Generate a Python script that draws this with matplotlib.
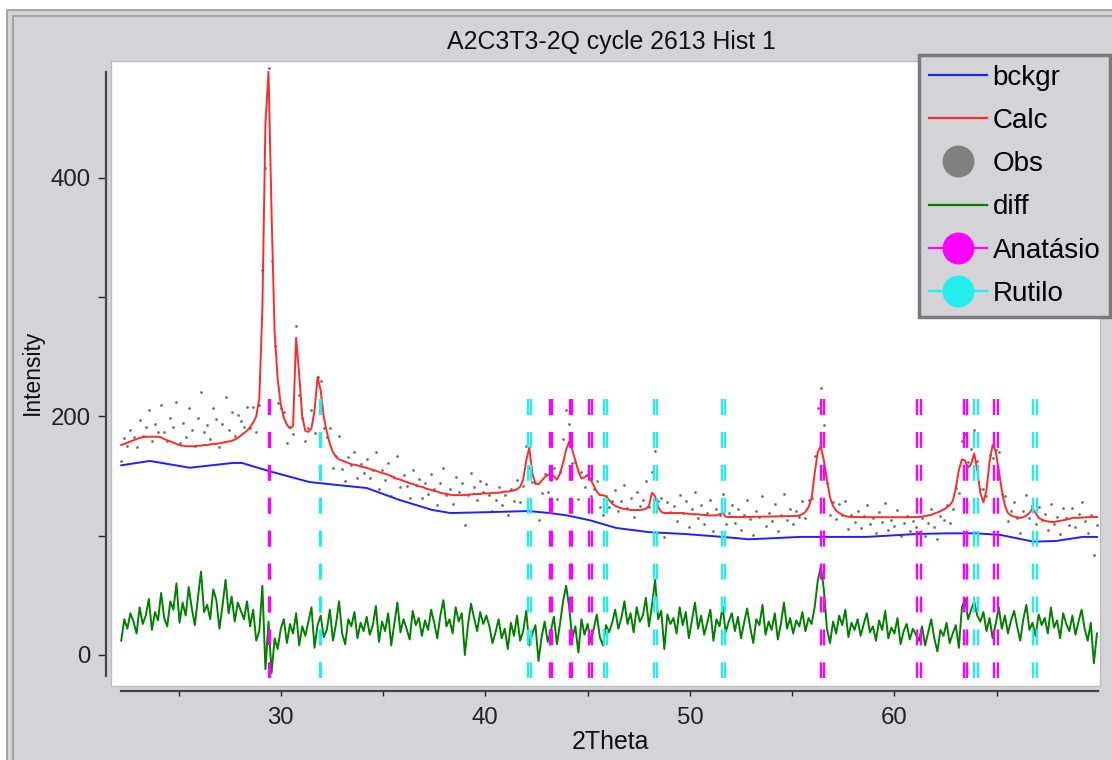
import matplotlib
matplotlib.use("Agg")
import matplotlib.pyplot as plt
import numpy as np
from matplotlib.lines import Line2D
from matplotlib.patches import Rectangle

plt.rcParams["font.family"] = ["Liberation Sans", "DejaVu Sans"]
plt.rcParams["lines.scale_dashes"] = False

TITLE = "A2C3T3-2Q cycle 2613 Hist 1"

# 2theta grid: 22.2 .. 69.9, step 0.15
TTH_START = 22.2
TTH_STEP = 0.15

calc = [
    176, 177, 178, 179, 180, 181, 182, 182.5, 183, 183, 183, 183, 183, 182.5, 181, 180, 179, 178, 177, 176,
    175.5, 175, 175, 175, 175, 175.5, 175.5, 176, 176, 176.5, 177, 177, 177.5, 178, 178.5, 179, 179.5, 180.5, 182, 184,
    186, 188, 191, 195, 200, 215, 290, 445, 489, 370, 270, 231, 210, 199, 193, 190, 192, 266, 235, 200,
    188, 187, 190, 205, 233, 222, 200, 187, 177, 170, 166, 164, 163, 162, 161, 160, 159.5, 159, 158, 157.5,
    157, 156, 155, 154.5, 153.5, 152.5, 152, 151, 150, 148.5, 147.5, 147, 146, 145, 144, 143.5, 142.5, 141.5, 141, 140,
    139, 138.5, 137.5, 137, 136, 135.5, 135, 134.5, 134, 134, 134, 134, 134, 134.5, 134.5, 135, 135, 135, 135.5, 135.5,
    135.5, 136, 136, 136, 136.5, 137, 137, 137.5, 138, 139, 141, 147, 163, 174, 152, 144, 143, 146, 149, 151,
    152, 150, 147, 152, 161, 172, 179, 172, 163, 154, 148, 149, 151, 147, 142, 137, 134, 134, 133, 130,
    127, 125, 124, 123, 122.5, 122, 121.6, 121.5, 121.5, 121.5, 122, 122.5, 125, 136, 133, 124, 120, 119, 119, 119,
    119, 119, 119, 119, 118.5, 118.5, 118, 118, 118, 117.5, 117.5, 117, 117, 117, 117, 118, 119, 116, 115.7, 115.7,
    115.7, 115.7, 115.7, 115.7, 115.7, 115.8, 115.8, 115.9, 116, 116, 116, 116, 116.1, 116.2, 116.2, 116.3, 116.3, 116.4, 116.4, 116.5,
    116.5, 117, 118, 120, 124, 131, 152, 170, 175, 163, 147, 132, 125, 121, 119, 117.5, 116.5, 116, 115.7, 115.7,
    115.7, 115.6, 115.5, 115.5, 115.5, 115.5, 115.5, 115.5, 115.5, 115.5, 115.5, 115.5, 115.5, 115.5, 115.5, 115.5, 115.5, 115.6, 115.6, 115.7,
    115.8, 116, 116.5, 117, 117.5, 118.5, 119.5, 120.5, 122, 123.5, 125.5, 129, 140, 155, 164, 163, 157, 160, 169, 155,
    136, 128, 138, 162, 176, 171, 155, 138, 125, 119, 117, 116, 115.5, 115, 115.5, 117, 119, 123, 119, 115,
    113.5, 112.5, 112, 111.5, 111.5, 112, 112.5, 113, 113.5, 114, 115, 115, 115, 115.2, 115.4, 115.5, 115.6, 115.7, 115.7,
]

diff = [
    12, 30, 22, 35, 28, 18, 40, 26, 33, 47, 21, 36, 29, 52, 31, 24, 45, 38, 60, 27,
    44, 33, 57, 39, 25, 48, 70, 36, 42, 30, 55, 46, 22, 41, 63, 35, 49, 28, 44, 37,
    30, 45, 24, 38, 12, 20, 58, -12, 28, -15, 14, 5, 22, 30, 10, 26, 18, 35, 8, 24,
    16, 28, 40, 6, 25, 33, 15, 21, 38, 12, 26, 45, 18, 9, 30, 24, 36, 14, 27, 20,
    32, 17, 25, 41, 11, 28, 20, 35, 8, 26, 44, 19, 30, 22, 13, 37, 25, 31, 16, 29,
    21, 38, 27, 14, 33, 46, 24, 30, 18, 40, 28, 35, 0, 25, 43, 31, 20, 36, 26, 33,
    24, 10, 19, 30, 14, 22, 5, 27, 16, 33, 12, 20, 37, 8, 18, 25, -5, 15, 28, 11,
    20, 32, 9, 26, 45, 58, 40, 14, 24, 2, 30, 17, 26, 11, 22, 34, 15, 8, 25, 19,
    27, 38, 22, 31, 45, 26, 35, 19, 40, 28, 33, 48, 24, 42, 63, 30, 37, 5, 34, 26,
    31, 18, 40, 25, 36, 14, 29, 44, 22, 33, 17, 27, 38, 12, 30, 24, 41, 19, 28, 35,
    20, 32, 14, 27, 39, 23, 10, 30, 25, 42, 17, 28, 21, 35, 13, 26, 44, 22, 31, 18,
    29, 24, 36, 20, 31, 26, 40, 62, 74, 55, 22, 10, 28, 18, 33, 25, 38, 15, 27, 21,
    30, 16, 26, 35, 19, 24, 12, 29, 21, 37, 14, 23, 18, 31, 9, 20, 26, 13, 22, 17,
    12, 24, 8, 19, 30, 14, 3, 21, 16, 27, 10, 18, 25, 6, 40, 47, 30, 38, 45, 33,
    28, 36, 20, 31, 14, 26, 40, 22, 33, 18, 29, 37, 24, 12, 30, 42, 21, 27, 16, 34,
    25, 31, 18, 40, 23, 29, 14, 35, 26, 20, 33, 17, 28, 38, 22, 12, 27, -7, 18,
]
DIFF_OFFSET = 25

bkg_tth = [22.2, 23.6, 25.55, 27.65, 28.1, 29.46, 31.4, 32.5, 34.2, 35.8, 37.4, 38.3,
           40.7, 42.1, 43.15, 44.0, 45.1, 46.4, 48.0, 49.7, 51.6, 52.9, 55.4, 58.65,
           61.15, 62.7, 64.0, 65.2, 66.8, 67.9, 69.2, 69.9]
bkg = [159, 162.7, 157, 161, 161, 154, 145, 143, 140, 130, 121.6, 119,
       120, 120.7, 119, 117, 113, 106.5, 103, 101.5, 99, 97, 99, 99,
       101.5, 102, 102, 100.6, 95, 95.6, 99, 99]

# reflection positions (K-alpha1 and K-alpha2)
anatase_ka1 = [29.40, 43.15, 44.13, 45.08, 56.39, 61.12, 63.38, 64.88]
anatase_ka2 = [29.47, 43.27, 44.25, 45.21, 56.55, 61.29, 63.56, 65.06]
rutile_ka1 = [31.91, 42.09, 45.81, 48.24, 51.58, 63.90, 66.76]
rutile_ka2 = [31.99, 42.21, 45.94, 48.38, 51.74, 64.08, 66.95]
TICK_TOP, TICK_BOTTOM = 215, -19

tth = TTH_START + TTH_STEP * np.arange(len(calc))
calc = np.array(calc)
diff = np.array(diff)
obs = calc + diff - DIFF_OFFSET

GRAY = "#d4d3d6"
fig = plt.figure(figsize=(11.12, 7.6), dpi=100, facecolor="white")
fig.patches.append(Rectangle((7 / 1112, -0.1), 1.2, 1 - 10 / 760 + 0.1, transform=fig.transFigure,
                             facecolor=GRAY, edgecolor="#9a9a9a", lw=1.2, zorder=-10))
fig.patches.append(Rectangle((13 / 1112, -0.1), 1.2, 1 - 16 / 760 + 0.1, transform=fig.transFigure,
                             facecolor="none", edgecolor="#9a9a9a", lw=1.2, zorder=-9))

ax = fig.add_axes([111 / 1112, 1 - 686 / 760, 989 / 1112, 625 / 760])
ax.set_facecolor("white")
ax.add_patch(Rectangle((0, 0), 1, 1, transform=ax.transAxes, facecolor="none",
                       edgecolor="#bdbdbd", lw=1, clip_on=False, zorder=0))

ax.plot(tth, obs, ".", ms=2.2, color="#666666", alpha=0.8, zorder=2)
ax.plot(bkg_tth, bkg, color="#2020ff", lw=1.4, zorder=3)
ax.plot(tth, calc, color="#ff2a2a", lw=1.4, zorder=4)
ax.plot(tth, diff, color="#008000", lw=1.4, zorder=3)

for pos_list, col in ((anatase_ka1, "#ff00ff"), (anatase_ka2, "#ff00ff"),
                      (rutile_ka1, "#22eeee"), (rutile_ka2, "#22eeee")):
    for p in pos_list:
        ax.plot([p, p], [TICK_TOP, TICK_BOTTOM], color=col, lw=1.7,
                linestyle=(0, (11.5, 12.2)), zorder=5)

ax.set_xlim(21.7, 70.05)
ax.set_ylim(-26, 498)

for s in ("top", "right"):
    ax.spines[s].set_visible(False)
ax.spines["left"].set_position(("outward", 3.6))
ax.spines["left"].set_bounds(-18, 489)
ax.spines["bottom"].set_position(("outward", 3.6))
ax.spines["bottom"].set_bounds(22.2, 69.95)
for s in ("left", "bottom"):
    ax.spines[s].set_color("#444444")
    ax.spines[s].set_linewidth(1.6)

ax.set_yticks([0, 100, 200, 300, 400])
ax.set_yticklabels(["0", "", "200", "", "400"])
ax.set_xticks([25, 30, 35, 40, 45, 50, 55, 60, 65])
ax.set_xticklabels(["", "30", "", "40", "", "50", "", "60", ""])
ax.tick_params(axis="y", direction="out", length=5.8, width=1, pad=5, labelsize=17.3, colors="#222222")
ax.tick_params(axis="x", direction="out", length=3.6, width=1, pad=8, labelsize=17.3, colors="#222222")

fig.text(611 / 1112, 1 - 42 / 760, TITLE, ha="center", va="center", fontsize=17.9, color="#111111")
fig.text(610 / 1112, 1 - 742 / 760, "2Theta", ha="center", va="center", fontsize=17.9, color="#111111")
fig.text(32 / 1112, 1 - 372 / 760, "Intensity", ha="center", va="center", rotation=90,
         fontsize=16.4, color="#111111")

handles = [
    Line2D([], [], color="#2020ff", lw=1.6),
    Line2D([], [], color="#ff2a2a", lw=1.6),
    Line2D([], [], color="#808080", lw=0, marker="o", ms=22),
    Line2D([], [], color="#008000", lw=1.6),
    Line2D([], [], color="#ff00ff", lw=1.6, marker="o", ms=22),
    Line2D([], [], color="#22eeee", lw=1.6, marker="o", ms=22),
]
labels = ["bckgr", "Calc", "Obs", "diff", "Anatásio", "Rutilo"]
leg = fig.legend(handles, labels, loc="upper right", bbox_to_anchor=(1110 / 1112, 1 - 55 / 760),
                 fontsize=20, frameon=True, fancybox=False, facecolor=GRAY, edgecolor="#7a7a7a",
                 framealpha=1, handlelength=2.1, handletextpad=0.2, borderpad=0.35,
                 labelspacing=0.62, borderaxespad=0)
leg.get_frame().set_linewidth(2.5)

fig.savefig("out.png", dpi=100, facecolor=fig.get_facecolor())
